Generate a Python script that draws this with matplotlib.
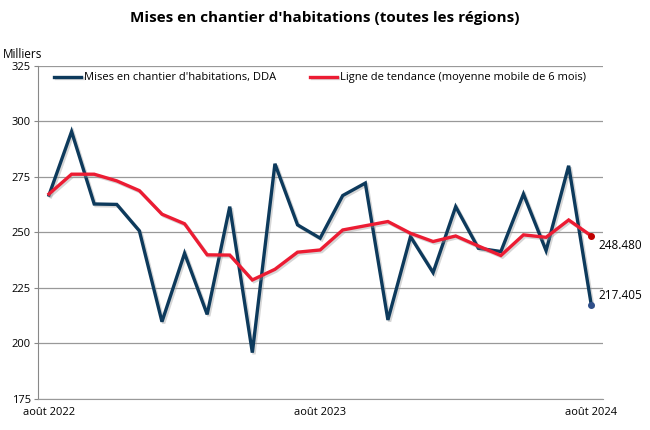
import numpy as np
import matplotlib
matplotlib.use('Agg')
import matplotlib.pyplot as plt
import matplotlib.patheffects as pe

plt.rcParams['font.family'] = ['Open Sans', 'DejaVu Sans']

# monthly data, août 2022 -> août 2024 (milliers)
months = ['août 2022', 'sept. 2022', 'oct. 2022', 'nov. 2022', 'déc. 2022',
          'janv. 2023', 'févr. 2023', 'mars 2023', 'avr. 2023', 'mai 2023',
          'juin 2023', 'juil. 2023', 'août 2023', 'sept. 2023', 'oct. 2023',
          'nov. 2023', 'déc. 2023', 'janv. 2024', 'févr. 2024', 'mars 2024',
          'avr. 2024', 'mai 2024', 'juin 2024', 'juil. 2024', 'août 2024']
starts = [266.8, 295.4, 262.8, 262.6, 250.7, 209.8, 240.6, 213.1, 261.6, 195.9,
          280.9, 253.4, 247.4, 266.6, 272.2, 210.6, 248.1, 231.9, 261.6, 242.9,
          241.4, 267.3, 241.8, 280.0, 217.405]
trend = [267.3, 276.2, 276.2, 273.2, 268.8, 258.2, 253.9, 239.9, 239.8, 228.6,
         233.4, 241.1, 242.1, 251.1, 253.0, 254.9, 249.6, 245.9, 248.4, 243.9,
         239.6, 248.9, 247.8, 255.6, 248.480]
shown_ticks = [0, 12, 24]

blue = '#0d3a5c'
red = '#ec1c33'

fig = plt.figure(figsize=(6.5, 4.3), dpi=100)
ax = fig.add_axes([0.058, 0.072, 0.869, 0.775])

x = np.arange(len(months))
shadow = [pe.SimpleLineShadow(offset=(1.2, -1.2), shadow_color='#999999', alpha=0.4), pe.Normal()]
ax.plot(x, starts, color=blue, lw=2.4, solid_joinstyle='miter',
        label="Mises en chantier d'habitations, DDA", path_effects=shadow, zorder=3)
ax.plot(x, trend, color=red, lw=2.4, solid_joinstyle='miter',
        label='Ligne de tendance (moyenne mobile de 6 mois)', path_effects=shadow, zorder=4)

# end points and their labels
ax.plot(x[-1], starts[-1], 'o', color='#2f4f8a', ms=4, zorder=5)
ax.plot(x[-1], trend[-1], 'o', color='#c00000', ms=4, zorder=5)
ax.annotate(f'{starts[-1]:.3f}', (x[-1], starts[-1]), xytext=(5, 2),
            textcoords='offset points', va='bottom', fontsize=8.5)
ax.annotate(f'{trend[-1]:.3f}', (x[-1], trend[-1]), xytext=(5, -2),
            textcoords='offset points', va='top', fontsize=8.5)

ax.set_xlim(-0.5, len(months) - 0.5)
ax.set_ylim(175, 325)
ax.set_yticks(np.arange(175, 326, 25))
ax.set_xticks(x[shown_ticks])
ax.set_xticklabels([months[i] for i in shown_ticks])
ax.tick_params(axis='y', labelsize=8, length=3, color='#888888', pad=2)
ax.tick_params(axis='x', labelsize=8, length=0, pad=6)

ax.grid(axis='y', color='#999999', lw=0.9)
ax.set_axisbelow(True)
for s in ['top', 'right']:
    ax.spines[s].set_visible(False)
ax.spines['left'].set_color('#888888')
ax.spines['bottom'].set_color('#999999')

ax.text(-0.062, 1.015, 'Milliers', transform=ax.transAxes, fontsize=8.5, ha='left', va='bottom')

ax.legend(loc='upper center', ncol=2, frameon=False, fontsize=8,
          bbox_to_anchor=(0.5, 1.0), handlelength=2.4, handletextpad=0.3,
          columnspacing=3.0, borderaxespad=0.2)

fig.suptitle("Mises en chantier d'habitations (toutes les régions)",
             fontsize=11, fontweight='bold', y=0.975)

fig.savefig('out.png', dpi=100)
